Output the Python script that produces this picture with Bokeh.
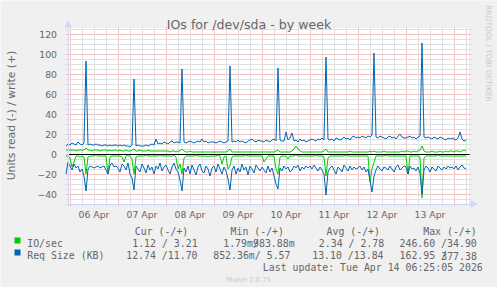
import math
import pandas as pd
from bokeh.plotting import figure
from bokeh.models import (Range1d, FixedTicker, DatetimeTickFormatter, Label, Grid, LinearAxis,
                          DatetimeAxis, Arrow, NormalHead, BoxAnnotation, ColumnDataSource)
from bokeh.embed import file_html
from bokeh.resources import INLINE

# ---------------- data (hourly samples, Apr 5 22:00 .. Apr 14 06:00) ----------------
times = pd.date_range("2026-04-05 22:00", periods=201, freq="h")

# Req Size (KB) - write (+)
req_write = (
    [8, 10]
    + [9, 11, 10, 9, 12, 10, 9, 11, 93, 9, 10, 9, 9, 10, 9, 9, 8, 9, 9, 8, 9, 8, 9, 9]
    + [8, 9, 8, 9, 8, 8, 7, 9, 75, 8, 9, 8, 8, 8, 9, 8, 9, 10, 9, 15, 10, 11, 10, 12]
    + [11, 10, 12, 13, 11, 12, 12, 11, 85, 12, 11, 12, 13, 12, 11, 12, 13, 12, 15, 12, 13, 11, 12, 12]
    + [12, 11, 12, 13, 12, 11, 12, 13, 88, 12, 13, 12, 14, 12, 13, 12, 11, 13, 14, 15, 13, 12, 14, 13]
    + [13, 12, 14, 13, 12, 14, 15, 13, 86, 14, 13, 13, 22, 14, 16, 21, 13, 14, 12, 15, 13, 14, 12, 13]
    + [14, 15, 14, 13, 15, 14, 16, 14, 97, 15, 14, 15, 13, 16, 15, 14, 15, 17, 15, 16, 14, 17, 18, 16]
    + [17, 16, 18, 17, 16, 18, 17, 19, 101, 17, 16, 18, 17, 16, 15, 17, 18, 16, 17, 15, 18, 20, 17, 16]
    + [16, 17, 18, 16, 17, 15, 17, 18, 111, 17, 16, 17, 16, 15, 17, 16, 15, 17, 16, 15, 14, 16, 15, 16]
    + [15, 14, 16, 22, 15, 13, 14]
)

# Req Size (KB) - read (-)
req_read = (
    [-20, -8]
    + [-12, -16, -10, -14, -12, -18, -15, -22, -37, -15, -12, -13, -14, -13, -12, -14, -13, -12, -16, -20, -11, -9, -13, -12]
    + [-14, -18, -10, -12, -16, -9, -20, -24, -36, -12, -15, -18, -10, -14, -19, -11, -16, -13, -20, -12, -15, -9, -17, -13]
    + [-11, -16, -20, -13, -9, -15, -18, -26, -37, -14, -18, -12, -20, -11, -16, -21, -13, -10, -17, -19, -12, -15, -22, -14]
    + [-12, -18, -10, -15, -20, -13, -17, -25, -36, -16, -12, -20, -14, -18, -10, -16, -13, -21, -12, -15, -19, -11, -14, -17]
    + [-13, -16, -19, -12, -18, -14, -22, -30, -35, -14, -17, -12, -15, -13, -18, -16, -12, -14, -11, -17, -13, -15, -12, -14]
    + [-12, -15, -11, -14, -17, -13, -16, -20, -41, -18, -14, -12, -16, -20, -13, -15, -18, -11, -14, -17, -12, -16, -13, -15]
    + [-14, -12, -16, -13, -18, -15, -27, -38, -22, -16, -12, -15, -17, -13, -14, -16, -12, -15, -18, -13, -11, -16, -14, -12]
    + [-13, -20, -12, -15, -14, -17, -13, -19, -40, -16, -12, -14, -18, -13, -15, -17, -12, -14, -16, -13, -15, -12, -14, -13]
    + [-15, -12, -16, -13, -11, -14, -15]
)

# IO/sec - write (+)
io_write = (
    [4, 4]
    + [4, 4, 4, 3, 4, 4, 4, 4, 6, 4, 4, 3, 4, 4, 4, 3, 4, 4, 4, 3, 4, 3, 4, 4]
    + [3, 4, 3, 3, 4, 3, 3, 4, 5, 3, 3, 4, 3, 3, 3, 4, 3, 3, 3, 3, 3, 3, 3, 3]
    + [3, 3, 2, 3, 3, 2, 3, 3, 5, 3, 2, 2, 3, 2, 2, 2, 2, 2, 2, 2, 2, 2, 2, 2]
    + [2, 2, 2, 2, 2, 2, 2, 3, 5, 2, 2, 2, 2, 2, 2, 2, 2, 2, 2, 2, 2, 2, 2, 2]
    + [2, 2, 2, 2, 2, 2, 2, 3, 4, 2, 2, 2, 2, 2, 2, 3, 5, 8, 5, 3, 2, 2, 2, 2]
    + [2, 2, 2, 2, 2, 2, 2, 3, 5, 2, 2, 2, 2, 2, 2, 2, 2, 2, 2, 2, 3, 2, 2, 2]
    + [2, 2, 2, 2, 2, 2, 3, 2, 3, 2, 2, 2, 2, 3, 2, 2, 2, 2, 2, 2, 2, 2, 3, 2]
    + [3, 3, 2, 2, 3, 2, 3, 4, 8, 3, 2, 2, 2, 3, 2, 2, 2, 3, 2, 2, 3, 2, 3, 3]
    + [2, 3, 3, 2, 3, 4, 3]
)

# IO/sec - read (-)
io_read = (
    [-2, -2]
    + [-4, -13, -8, -2, -2, -3, -2, -3, -20, -3, -2, -2, -2, -1, -2, -2, -2, -2, -2, -20, -3, -2, -2, -2]
    + [-2, -2, -3, -8, -2, -1, -2, -5, -20, -3, -2, -2, -2, -2, -1, -2, -2, -2, -2, -2, -2, -1, -2, -2]
    + [-2, -2, -2, -2, -1, -3, -15, -10, -20, -4, -2, -2, -2, -2, -2, -1, -2, -2, -2, -2, -2, -3, -2, -2]
    + [-2, -2, -1, -2, -10, -3, -2, -15, -12, -3, -2, -2, -2, -2, -2, -2, -1, -2, -2, -2, -2, -2, -2, -2]
    + [-2, -8, -5, -2, -2, -2, -2, -15, -20, -3, -2, -2, -2, -5, -2, -2, -2, -1, -2, -2, -2, -2, -2, -2]
    + [-2, -2, -2, -1, -2, -2, -2, -3, -22, -4, -2, -2, -2, -2, -2, -2, -2, -2, -1, -2, -2, -2, -2, -2]
    + [-2, -2, -2, -2, -2, -2, -28, -15, -8, -2, -2, -2, -2, -2, -1, -2, -2, -2, -2, -2, -2, -2, -2, -2]
    + [-2, -20, -2, -2, -2, -2, -2, -3, -44, -4, -2, -2, -2, -2, -2, -2, -1, -2, -2, -2, -2, -2, -2, -2]
    + [-2, -2, -2, -2, -2, -2, -2]
)

day_labels = ["06 Apr", "07 Apr", "08 Apr", "09 Apr", "10 Apr", "11 Apr", "12 Apr", "13 Apr"]
y_major = [-40, -20, 0, 20, 40, 60, 80, 100, 120]

legend_header = ["Cur (-/+)", "Min (-/+)", "Avg (-/+)", "Max (-/+)"]
legend_io = ["1.12 / 3.21", "1.79m/", "983.88m", "2.34 / 2.78", "246.60 /34.90"]
legend_req = ["12.74 /11.70", "852.36m/ 5.57", "13.10 /13.84", "162.95 /", "377.38"]

# ---------------- styling / geometry ----------------
GREEN = "#00CC00"
BLUE = "#0066B3"
FONT = "#666666"
AXIS = "#CFD6F8"
MGRID = "#F2C4C4"
GRID = "#E0E0E0"
BACK = "#F0F0F0"

W, H = 497, 287
FL, FT, FW, FH = 67, 27, 401, 176        # plot area in pixels
PX = pd.Timedelta(minutes=30)            # one pixel in time
Y_LO, Y_HI = -50, 126                    # value range of plot area (1 px per unit)
HALF = 0.5                               # half-pixel shift for crisp 1px rules


def ms(ts):
    return ts.value // 10**6


x_start = pd.Timestamp("2026-04-05 23:00")
x_end = x_start + FW * PX
full_x = Range1d(ms(x_start - (FL + HALF) * PX), ms(x_start + (W - FL - HALF) * PX))
full_y = Range1d(Y_HI - (H - FT) + HALF, Y_HI + FT + HALF)

midnights = pd.date_range("2026-04-06", "2026-04-14", freq="D")
six_h = [t for t in pd.date_range("2026-04-06", "2026-04-14 06:00", freq="6h") if t.hour != 0]
noons = [t + pd.Timedelta(hours=12) for t in midnights[:-1]]

p = figure(width=W, height=H, x_range=full_x, y_range=full_y,
           x_axis_location=None, y_axis_location=None,
           output_backend="svg", toolbar_location=None,
           min_border=0, min_border_left=0, min_border_right=0, min_border_top=0, min_border_bottom=0,
           background_fill_color=BACK, border_fill_color=BACK, outline_line_color=None)
p.xgrid.visible = False
p.ygrid.visible = False

# white canvas
p.add_layout(BoxAnnotation(left=ms(x_start), right=ms(x_end), bottom=Y_LO, top=Y_HI,
                           fill_color="white", fill_alpha=1, line_color=None, level="underlay"))

# grids, extending ~2px past the plot area like rrdtool
xt = FixedTicker(ticks=[ms(t) for t in midnights], minor_ticks=[ms(t) for t in six_h])
y_minor = [v for v in range(Y_LO, Y_HI + 1, 5) if v % 20 != 0]
yt = FixedTicker(ticks=y_major, minor_ticks=y_minor)
p.add_layout(Grid(dimension=0, ticker=xt, bounds=(ms(x_start), ms(x_end)),
                  cross_bounds=(Y_LO - 2.5, Y_HI + 2),
                  grid_line_color=MGRID, minor_grid_line_color=GRID))
p.add_layout(Grid(dimension=1, ticker=yt, bounds=(Y_LO, Y_HI),
                  cross_bounds=(ms(x_start - 2.5 * PX), ms(x_end + 2 * PX)),
                  grid_line_color=MGRID, minor_grid_line_color=GRID))
# zero rule
p.add_layout(Grid(dimension=1, ticker=FixedTicker(ticks=[0]), cross_bounds=(ms(x_start), ms(x_end)),
                  grid_line_color="black", grid_line_width=1))

# axes placed on the plot area edges
yax = LinearAxis(fixed_location=ms(x_start), ticker=yt, bounds=(Y_LO - 2, Y_HI),
                 axis_line_color=AXIS, major_tick_line_color=None, minor_tick_line_color=None,
                 major_tick_out=0, major_tick_in=0, major_label_standoff=7,
                 major_label_text_font="DejaVu Sans", major_label_text_font_size="9.3px",
                 major_label_text_color=FONT)
p.add_layout(yax, "left")
xax = DatetimeAxis(fixed_location=Y_LO, ticker=FixedTicker(ticks=[ms(t) for t in noons], minor_ticks=[]),
                   formatter=DatetimeTickFormatter(days="%d %b", hours="%d %b", months="%d %b"),
                   bounds=(ms(x_start - 2 * PX), ms(x_end + 2 * PX)),
                   axis_line_color=AXIS, major_tick_line_color=None, minor_tick_line_color=None,
                   major_tick_out=0, major_tick_in=0, major_label_standoff=5,
                   major_label_text_font="DejaVu Sans", major_label_text_font_size="9.3px",
                   major_label_text_color=FONT)
xax.major_label_overrides = {ms(t): lab for t, lab in zip(noons, day_labels)}
p.add_layout(xax, "below")

# axis arrows
p.add_layout(Arrow(x_start=ms(x_start), y_start=Y_HI, x_end=ms(x_start), y_end=Y_HI + 7,
                   line_color=AXIS, line_width=1,
                   end=NormalHead(size=6, fill_color=AXIS, line_color=AXIS)))
p.add_layout(Arrow(x_start=ms(x_end + 2 * PX), y_start=Y_LO, x_end=ms(x_end + 8 * PX), y_end=Y_LO,
                   line_color=AXIS, line_width=1,
                   end=NormalHead(size=6, fill_color=AXIS, line_color=AXIS)))

# series
src = ColumnDataSource(dict(t=times, io_r=io_read, io_w=io_write, rq_r=req_read, rq_w=req_write))
p.line("t", "io_r", source=src, line_color=GREEN, line_width=1)
p.line("t", "io_w", source=src, line_color=GREEN, line_width=1)
p.line("t", "rq_r", source=src, line_color=BLUE, line_width=1)
p.line("t", "rq_w", source=src, line_color=BLUE, line_width=1)


def lab(text, x, y, size, font="DejaVu Sans", color=FONT, align="left", baseline="alphabetic", angle=0.0):
    p.add_layout(Label(x=x, y=y, x_units="canvas", y_units="canvas", text=text, text_font=font,
                       text_font_size=size, text_color=color, text_align=align,
                       text_baseline=baseline, angle=angle))


lab("IOs for /dev/sda - by week", 248.5, 23.5, "12.6px", align="center")
lab("Units read (-) / write (+)", 11, 115, "10.8px", align="center", baseline="middle", angle=math.pi / 2)
lab("RRDTOOL / TOBI OETIKER", 488, 53, "7.5px", color="#C8C8C8", align="center", baseline="middle",
    angle=-math.pi / 2)

MONO = "DejaVu Sans Mono"
MS = "9.9px"
CW = 5.96
for txt, x in zip(legend_header, [134.3, 230, 326, 422.7]):
    lab(txt, x, 230.7, MS, font=MONO)

lab("IO/sec", 26.7, 243.3, MS, font=MONO)
for txt, x in zip(legend_io, [131.7, 222.7, 222.7 + 5 * CW, 318.3, 399]):
    lab(txt, x, 243.3, MS, font=MONO)
lab("Req Size (KB)", 26.7, 255, MS, font=MONO)
for txt, x in zip(legend_req, [125.7, 212.7, 311.7, 399, 399 + 7 * CW]):
    lab(txt, x, 255, MS, font=MONO)
lab("Last update: Tue Apr 14 06:25:05 2026", 482.3, 266.5, MS, font=MONO, align="right")
lab("Munin 2.0.75", 248, 279, "6.8px", color="#C8C8C8", align="center")

for color, top in ((GREEN, 237), (BLUE, 249)):
    p.add_layout(BoxAnnotation(left=14, right=20, top=top, bottom=top + 6, left_units="canvas",
                               right_units="canvas", top_units="canvas", bottom_units="canvas",
                               fill_color=color, fill_alpha=1, line_color=None))

open("out.html", "w").write(file_html(p, INLINE))
